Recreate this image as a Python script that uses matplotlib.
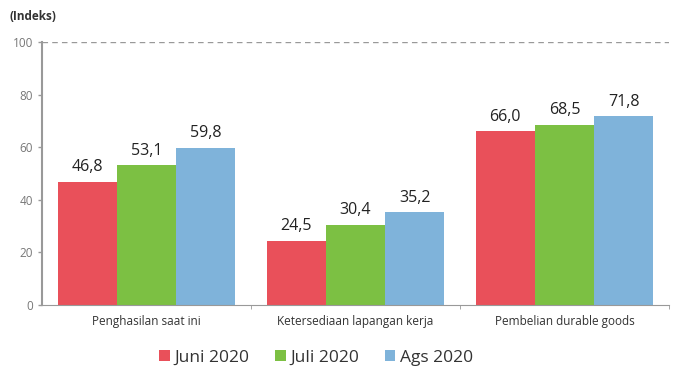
import matplotlib
matplotlib.use("Agg")
import matplotlib.pyplot as plt
import numpy as np

categories = ["Penghasilan saat ini", "Ketersediaan lapangan kerja", "Pembelian durable goods"]
series_names = ["Juni 2020", "Juli 2020", "Ags 2020"]
juni = [46.8, 24.5, 66.0]
juli = [53.1, 30.4, 68.5]
ags = [59.8, 35.2, 71.8]
colors = ["#E9505A", "#7CC043", "#7FB3DA"]
yticks = [0, 20, 40, 60, 80, 100]

plt.rcParams['font.family'] = ['Open Sans', 'DejaVu Sans']

fig = plt.figure(figsize=(6.75, 3.77), dpi=100)
ax = fig.add_axes([42/675, 1 - 305/377, (669-42)/675, (305-42)/377])

x = np.arange(len(categories))
w = 0.283
for i, (vals, c, name) in enumerate(zip([juni, juli, ags], colors, series_names)):
    bars = ax.bar(x + (i - 1) * w, vals, w, color=c, label=name)
    for b, v in zip(bars, vals):
        ax.text(b.get_x() + b.get_width() / 2, v + 2.5, f"{v:.1f}".replace(".", ","),
                ha="center", va="bottom", fontsize=11.5, color="#222222")

ax.set_xlim(-0.5, 2.5)
ax.set_ylim(0, 100)
ax.axhline(100, color="#999999", linestyle=(0, (4, 3)), linewidth=1)
for s in ["top", "right"]:
    ax.spines[s].set_visible(False)
ax.spines["left"].set_color("#999999")
ax.spines["left"].set_linewidth(1.5)
ax.spines["bottom"].set_color("#999999")
ax.set_yticks(yticks)
ax.tick_params(axis="y", colors="#999999", labelcolor="#777777", labelsize=8.5, length=3, width=1)
ax.set_xticks(x)
ax.set_xticklabels(categories, fontsize=8.5, color="#333333")
ax.tick_params(axis="x", length=0, pad=7)
ax.set_xticks([0.5, 1.5, 2.5], minor=True)
ax.tick_params(axis="x", which="minor", length=3, colors="#999999")

fig.text(10/675, 1 - 17/377, "(Indeks)", fontsize=8.5, fontweight="bold", color="#333333", va="center")

leg = fig.legend(loc="center", bbox_to_anchor=(316/675, 1 - 358/377), ncol=3, frameon=False,
                 fontsize=12.5, handlelength=0.6, handleheight=0.6, handletextpad=0.25, columnspacing=1.5)
for t in leg.get_texts():
    t.set_color("#333333")

fig.savefig("out.png", dpi=100)
